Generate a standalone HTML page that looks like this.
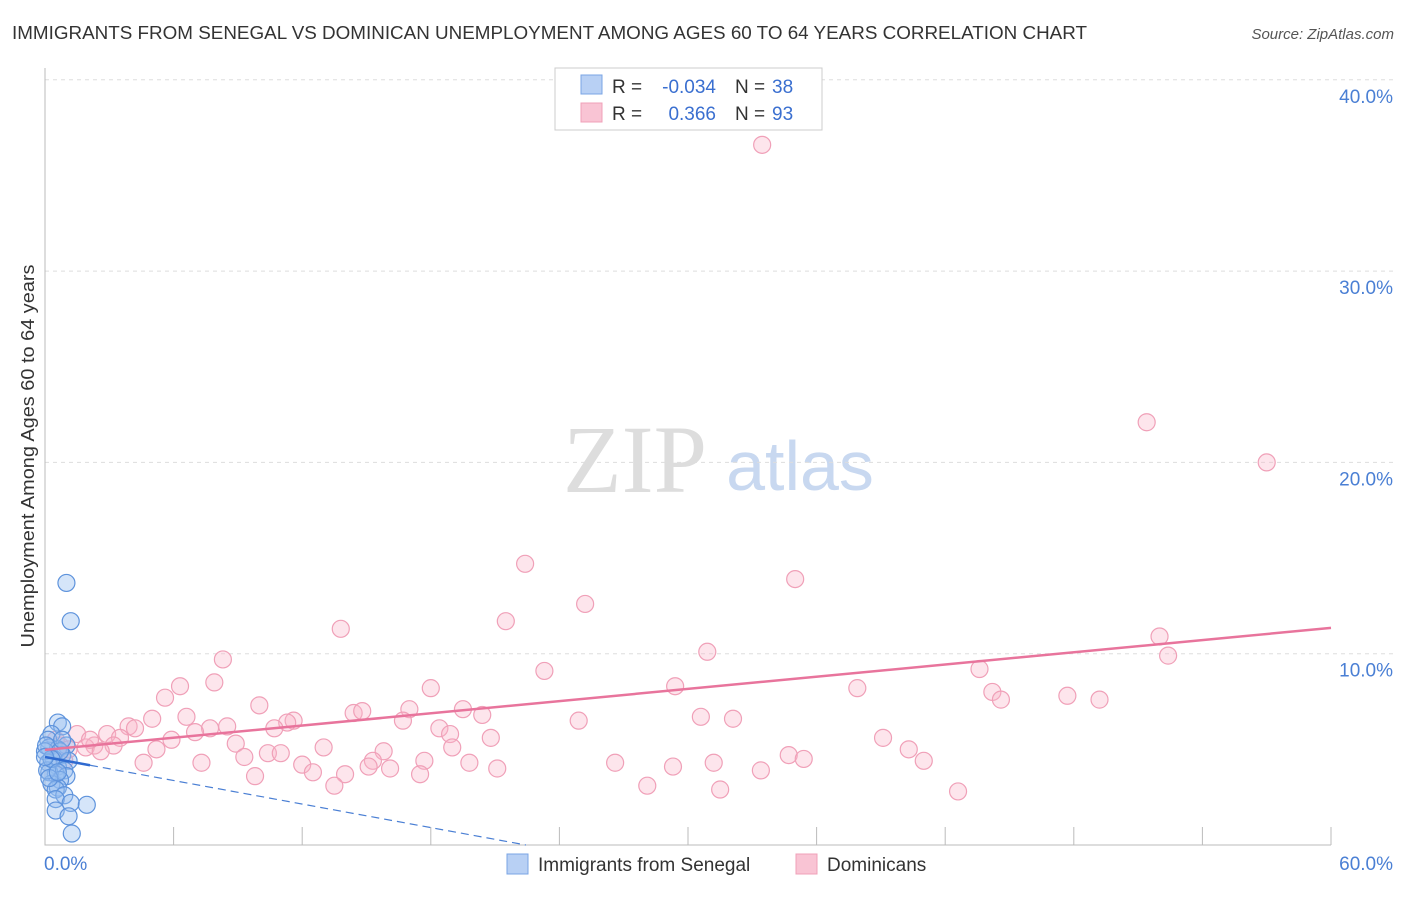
<!DOCTYPE html>
<html><head><meta charset="utf-8"><style>
body{margin:0;background:#fff;font-family:"Liberation Sans",sans-serif;}
</style></head><body>
<svg width="1406" height="892" id="svg" xmlns="http://www.w3.org/2000/svg" font-family="Liberation Sans, sans-serif">
<text x="12" y="39" font-size="18" fill="#333" textLength="1075" lengthAdjust="spacingAndGlyphs">IMMIGRANTS FROM SENEGAL VS DOMINICAN UNEMPLOYMENT AMONG AGES 60 TO 64 YEARS CORRELATION CHART</text>
<text x="1394" y="39" font-size="15" fill="#555" font-style="italic" text-anchor="end">Source: ZipAtlas.com</text>
<text x="34" y="456" font-size="18" fill="#333" text-anchor="middle" textLength="383" lengthAdjust="spacingAndGlyphs" transform="rotate(-90 34 456)">Unemployment Among Ages 60 to 64 years</text>
<text x="635" y="492" font-size="96" fill="#ddd" font-family="Liberation Serif, serif" text-anchor="middle">ZIP</text>
<text x="800" y="490" font-size="70" fill="#c8d8f0" text-anchor="middle">atlas</text>
<g id="grid"></g><g id="pink"></g><g id="blue"></g><g id="lines"></g>
<g font-size="19">
<rect x="555" y="68" width="267" height="62" fill="#fff" stroke="#ccc"/>
<rect x="581" y="75" width="21" height="19" fill="#b8d0f4" stroke="#7aa4e4"/>
<rect x="581" y="103" width="21" height="19" fill="#f9c4d4" stroke="#f0a0b8"/>
<text x="612" y="93" fill="#333">R =</text>
<text x="716" y="93" fill="#3a6fd0" text-anchor="end">-0.034</text>
<text x="735" y="93" fill="#333">N =</text>
<text x="772" y="93" fill="#3a6fd0">38</text>
<text x="612" y="120" fill="#333">R =</text>
<text x="716" y="120" fill="#3a6fd0" text-anchor="end">0.366</text>
<text x="735" y="120" fill="#333">N =</text>
<text x="772" y="120" fill="#3a6fd0">93</text>
</g>
<g>
<rect x="507" y="854" width="21" height="20" fill="#b8d0f4" stroke="#7aa4e4"/>
<text x="538" y="871" font-size="19" fill="#333">Immigrants from Senegal</text>
<rect x="796" y="854" width="21" height="20" fill="#f9c4d4" stroke="#f0a0b8"/>
<text x="827" y="871" font-size="19" fill="#333">Dominicans</text>
</g>
</svg>
<script>
const yTicks=[10,20,30,40];
const xTickLabels=["0.0%","60.0%"];
const pinkX=[33.46,51.4,57.0,22.4,35.0,25.2,21.5,13.8,52.0,52.4,30.9,8.3,23.3,43.6,6.3,7.9,18.0,29.4,37.9,44.2,44.6,47.7,49.2,5.6,10.0,17.0,19.5,14.4,14.8,5.0,6.6,11.6,11.3,16.7,20.4,24.9,30.6,32.1,3.9,4.2,7.7,8.5,10.7,7.0,18.4,18.9,20.8,1.5,2.9,3.5,5.9,39.1,8.9,2.3,3.2,1.9,13.0,5.2,19.0,40.3,10.4,11.0,15.8,9.3,34.7,35.4,15.3,17.7,4.6,7.3,12.0,19.8,26.6,31.2,41.0,15.1,16.1,21.1,29.3,12.5,14.0,33.4,9.8,17.5,13.5,28.1,31.5,42.6,0.7,1.1,2.6,0.5,2.1,0.9];
const pinkY=[36.6,22.1,20.0,14.7,13.9,12.6,11.7,11.3,10.9,9.9,10.1,9.7,9.1,9.2,8.3,8.5,8.2,8.3,8.2,8.0,7.6,7.8,7.6,7.7,7.3,7.1,7.1,6.9,7.0,6.6,6.7,6.5,6.4,6.5,6.8,6.5,6.7,6.6,6.2,6.1,6.1,6.2,6.1,5.9,6.1,5.8,5.6,5.8,5.8,5.6,5.5,5.6,5.3,5.2,5.2,5.1,5.1,5.0,5.1,5.0,4.8,4.8,4.9,4.6,4.7,4.5,4.4,4.4,4.3,4.3,4.2,4.3,4.3,4.3,4.4,4.1,4.0,4.0,4.1,3.8,3.7,3.9,3.6,3.7,3.1,3.1,2.9,2.8,5.2,5.0,4.9,5.5,5.5,4.4];
const blueX=[1.0,1.2,0.6,0.8,0.3,0.15,1.0,0.2,0.6,0.0,0.8,0.4,1.1,0.15,0.6,0.9,0.2,0.5,1.0,0.7,0.3,0.6,0.5,0.9,0.5,1.2,1.95,0.5,1.1,1.25,0.05,0.1,0.7,0.3,0.8,0.2,0.0,0.6];
const blueY=[13.7,11.7,6.4,6.2,5.8,5.5,5.2,5.1,5.0,4.9,4.7,4.5,4.4,4.3,4.1,3.9,3.8,3.7,3.6,3.4,3.2,3.0,2.9,2.6,2.4,2.2,2.1,1.8,1.5,0.6,5.2,3.9,4.9,4.5,5.5,3.5,4.6,3.8];
const pinkTrend=[4.97,11.35];
const blueTrend=[4.6,-0.205];
const X=v=>45+v*(1286/60), Y=v=>845-v*19.13;
const NS="http://www.w3.org/2000/svg";
function mk(p,t,a){const e=document.createElementNS(NS,t);for(const k in a)e.setAttribute(k,a[k]);document.getElementById(p).appendChild(e);return e;}
yTicks.forEach(t=>{
 const l=mk('grid','line',{x1:45,x2:1393,y1:Y(t),y2:Y(t),stroke:'#ddd','stroke-dasharray':'4 4'});
 
 
 const tx=mk('grid','text',{x:1393,y:Y(t)+23,'font-size':19,fill:'#4a7fd4','text-anchor':'end'});
 tx.textContent=t.toFixed(1)+'%';
 
 
});
const ax=mk('grid','path',{d:`M45 68 V845 H1331`,stroke:'#bbb',fill:'none'});


for(let i=0;i<=10;i++){const tk=mk('grid','line',{x1:X(i*6),x2:X(i*6),y1:827,y2:845,stroke:'#bbb'});
 
 }
xTickLabels.forEach((s,i)=>{const tx=mk('grid','text',{x:i?1393:44,y:870,'font-size':19,fill:'#4a7fd4','text-anchor':i?'end':'start'});tx.textContent=s;
 
 });
pinkX.forEach((x,i)=>{const c=mk('pink','circle',{cx:X(x),cy:Y(pinkY[i]),r:8.5,fill:'rgba(248,180,200,0.35)',stroke:'#f0a0b8','stroke-width':1.2});
 
 });
blueX.forEach((x,i)=>{const c=mk('blue','circle',{cx:X(x),cy:Y(blueY[i]),r:8.5,fill:'rgba(150,190,240,0.4)',stroke:'#5e93dc','stroke-width':1.2});
 
 });
const pl=mk('lines','line',{x1:X(0),y1:Y(pinkTrend[0]),x2:X(60),y2:Y(pinkTrend[1]),stroke:'#e8749c','stroke-width':2.5});


const bz=-blueTrend[0]/blueTrend[1];
const bd=mk('lines','line',{x1:X(2.1),y1:Y(blueTrend[0]+blueTrend[1]*2.1),x2:X(bz),y2:Y(0),stroke:'#4a7fd4','stroke-width':1.2,'stroke-dasharray':'8 5'});


const bs=mk('lines','line',{x1:X(0),y1:Y(blueTrend[0]),x2:X(2.1),y2:Y(blueTrend[0]+blueTrend[1]*2.1),stroke:'#2f6ad0','stroke-width':2.5});


</script>
</body></html>
